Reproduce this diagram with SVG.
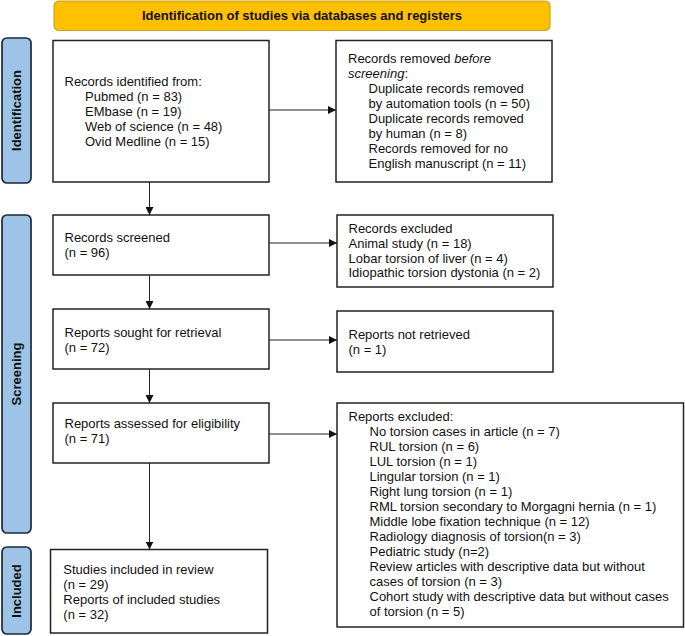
<svg xmlns="http://www.w3.org/2000/svg" width="685" height="636" viewBox="0 0 685 636">
<defs>
<style>
.bx{fill:#fff;stroke:#222;stroke-width:1.5}
.side{fill:#9dc3e6;stroke:#1b2a3a;stroke-width:1.7}
.t{font-family:"Liberation Sans",Arial,sans-serif;font-size:13px;fill:#111}
.sl{font-family:"Liberation Sans",Arial,sans-serif;font-size:13px;font-weight:bold;fill:#111;text-anchor:middle;dominant-baseline:central}
.ln{stroke:#222;stroke-width:1;fill:none}
</style>
<marker id="ah" viewBox="0 0 10 10" refX="10" refY="5" markerWidth="8" markerHeight="8" markerUnits="userSpaceOnUse" orient="auto"><path d="M0,0 L10,5 L0,10 z" fill="#111"/></marker>
</defs>
<rect width="685" height="636" fill="#fff"/>

<g id="header">
<rect x="54" y="1" width="496" height="29.5" rx="5" fill="#ffc000" stroke="#c9a227" stroke-width="1.2"/>
<text class="t" x="302" y="20" text-anchor="middle" font-weight="bold">Identification of studies via databases and registers</text>
</g>

<g id="side-identification">
<rect class="side" x="2" y="38" width="29" height="145" rx="5"/>
<text class="sl" transform="translate(16.5 110.5) rotate(-90)">Identification</text>
</g>
<g id="side-screening">
<rect class="side" x="2" y="215" width="29" height="318" rx="5"/>
<text class="sl" transform="translate(16.5 374) rotate(-90)">Screening</text>
</g>
<g id="side-included">
<rect class="side" x="2" y="547" width="29" height="87" rx="5"/>
<text class="sl" transform="translate(16.5 591) rotate(-90)">Included</text>
</g>

<g id="records-identified">
<rect class="bx" x="53" y="40.5" width="216" height="141.5"/>
<text class="t" x="64.5" y="85.5">Records identified from:</text>
<text class="t" x="85" y="100.5">Pubmed (n = 83)</text>
<text class="t" x="85" y="115.5">EMbase (n = 19)</text>
<text class="t" x="85" y="130.5">Web of science (n = 48)</text>
<text class="t" x="85" y="145.5">Ovid Medline (n = 15)</text>
</g>

<g id="records-removed">
<rect class="bx" x="336" y="40.5" width="216" height="141.5"/>
<text class="t" x="348" y="63">Records removed <tspan font-style="italic">before</tspan></text>
<text class="t" x="348" y="78"><tspan font-style="italic">screening</tspan>:</text>
<text class="t" x="368.5" y="93">Duplicate records removed</text>
<text class="t" x="368.5" y="108">by automation tools (n = 50)</text>
<text class="t" x="368.5" y="123">Duplicate records removed</text>
<text class="t" x="368.5" y="138">by human (n = 8)</text>
<text class="t" x="368.5" y="153">Records removed for no</text>
<text class="t" x="368.5" y="168">English manuscript (n = 11)</text>
</g>

<g id="records-screened">
<rect class="bx" x="53" y="215" width="216" height="60"/>
<text class="t" x="64.5" y="242">Records screened</text>
<text class="t" x="64.5" y="257">(n = 96)</text>
</g>

<g id="records-excluded">
<rect class="bx" x="337" y="215" width="216" height="72"/>
<text class="t" x="348.5" y="233">Records excluded</text>
<text class="t" x="348.5" y="248">Animal study (n = 18)</text>
<text class="t" x="348.5" y="262.5">Lobar torsion of liver (n = 4)</text>
<text class="t" x="348.5" y="277">Idiopathic torsion dystonia (n = 2)</text>
</g>

<g id="reports-sought">
<rect class="bx" x="53" y="309" width="216" height="60"/>
<text class="t" x="64.5" y="337">Reports sought for retrieval</text>
<text class="t" x="64.5" y="352">(n = 72)</text>
</g>

<g id="reports-not-retrieved">
<rect class="bx" x="337" y="311" width="216" height="61"/>
<text class="t" x="348.5" y="339">Reports not retrieved</text>
<text class="t" x="348.5" y="354">(n = 1)</text>
</g>

<g id="reports-assessed">
<rect class="bx" x="53" y="403" width="216" height="60"/>
<text class="t" x="64.5" y="427.5">Reports assessed for eligibility</text>
<text class="t" x="64.5" y="442.5">(n = 71)</text>
</g>

<g id="reports-excluded">
<rect class="bx" x="337" y="403" width="346.5" height="224"/>
<text class="t" x="348.5" y="421">Reports excluded:</text>
<text class="t" x="369.5" y="436">No torsion cases in article (n = 7)</text>
<text class="t" x="369.5" y="451">RUL torsion (n = 6)</text>
<text class="t" x="369.5" y="466">LUL torsion (n = 1)</text>
<text class="t" x="369.5" y="481">Lingular torsion (n = 1)</text>
<text class="t" x="369.5" y="496">Right lung torsion (n = 1)</text>
<text class="t" x="369.5" y="511">RML torsion secondary to Morgagni hernia (n = 1)</text>
<text class="t" x="369.5" y="526">Middle lobe fixation technique (n = 12)</text>
<text class="t" x="369.5" y="541">Radiology diagnosis of torsion(n = 3)</text>
<text class="t" x="369.5" y="556">Pediatric study (n=2)</text>
<text class="t" x="369.5" y="571">Review articles with descriptive data but without</text>
<text class="t" x="369.5" y="586">cases of torsion (n = 3)</text>
<text class="t" x="369.5" y="601">Cohort study with descriptive data but without cases</text>
<text class="t" x="369.5" y="616">of torsion (n = 5)</text>
</g>

<g id="studies-included">
<rect class="bx" x="50.5" y="549.5" width="217" height="83.5"/>
<text class="t" x="63.3" y="574">Studies included in review</text>
<text class="t" x="63.3" y="589">(n = 29)</text>
<text class="t" x="63.3" y="604">Reports of included studies</text>
<text class="t" x="63.3" y="619">(n = 32)</text>
</g>

<g id="connectors">
<line class="ln" x1="269" y1="110" x2="336" y2="110" marker-end="url(#ah)"/>
<line class="ln" x1="269" y1="243" x2="337" y2="243" marker-end="url(#ah)"/>
<line class="ln" x1="269" y1="340" x2="337" y2="340" marker-end="url(#ah)"/>
<line class="ln" x1="269" y1="434" x2="337" y2="434" marker-end="url(#ah)"/>
<line class="ln" x1="149.5" y1="182" x2="149.5" y2="215" marker-end="url(#ah)"/>
<line class="ln" x1="149.5" y1="275" x2="149.5" y2="309" marker-end="url(#ah)"/>
<line class="ln" x1="149.5" y1="369" x2="149.5" y2="403" marker-end="url(#ah)"/>
<line class="ln" x1="149.5" y1="463" x2="149.5" y2="549.5" marker-end="url(#ah)"/>
</g>
</svg>
